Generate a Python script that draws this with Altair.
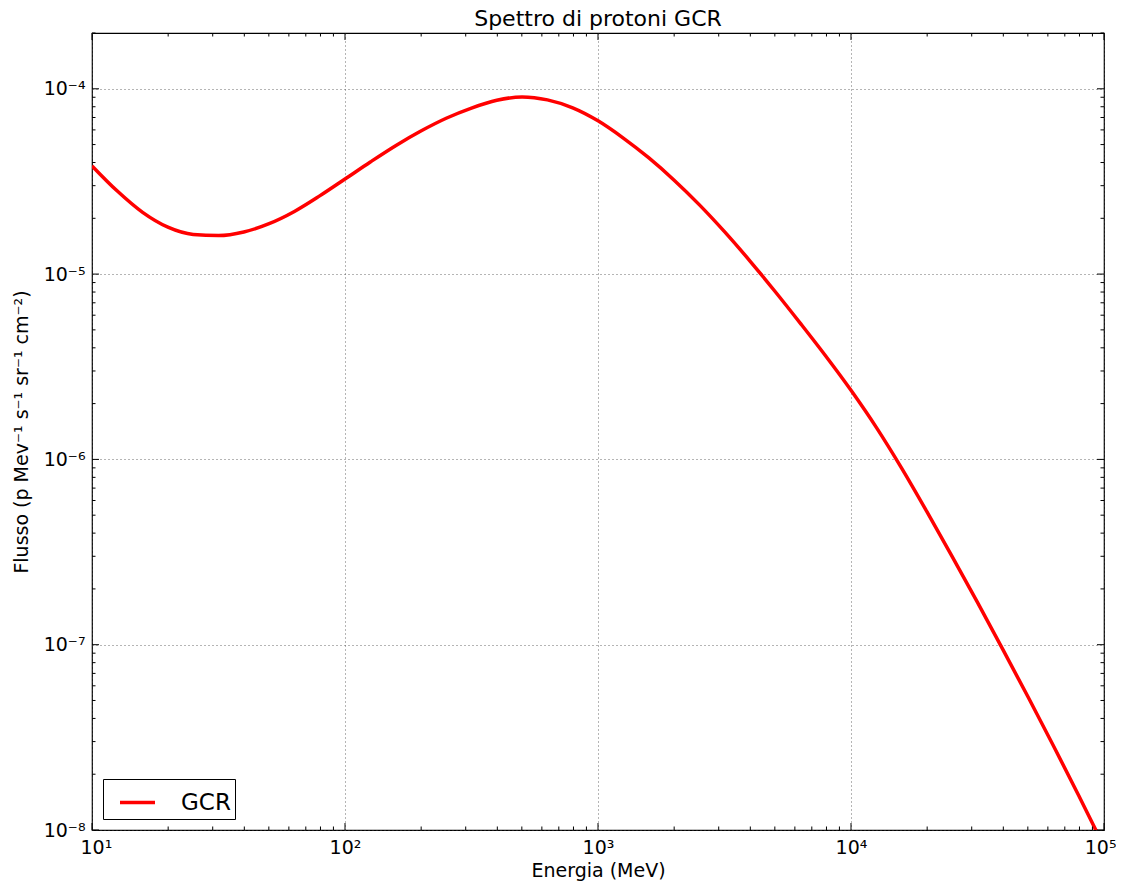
import json
import altair as alt
import pandas as pd

# ---- data ----
E_MEV = [10, 12.59, 15.85, 19.95, 25.12, 31.62, 39.81, 50.12, 63.10, 79.43,
         100, 125.9, 158.5, 199.5, 251.2, 316.2, 398.1, 501.2, 631.0, 794.3,
         1000, 1259, 1585, 1995, 2512, 3162, 3981, 5012, 6310, 7943,
         10000, 12590, 15850, 19950, 25120, 31620, 39810, 50120, 63100, 79430,
         100000]
FLUX = [3.837e-5, 2.805e-5, 2.153e-5, 1.791e-5, 1.637e-5, 1.614e-5, 1.687e-5,
        1.871e-5, 2.178e-5, 2.642e-5, 3.258e-5, 4.027e-5, 4.932e-5, 5.916e-5,
        6.934e-5, 7.870e-5, 8.670e-5, 9.036e-5, 8.710e-5, 7.889e-5, 6.714e-5,
        5.420e-5, 4.246e-5, 3.221e-5, 2.371e-5, 1.694e-5, 1.180e-5, 8.054e-6,
        5.420e-6, 3.614e-6, 2.360e-6, 1.489e-6, 8.974e-7, 5.224e-7, 2.985e-7,
        1.690e-7, 9.441e-8, 5.224e-8, 2.851e-8, 1.535e-8, 8.147e-9]
SERIES = "GCR"

X_TICKS = [10, 100, 1000, 10000, 100000]
X_TICK_LABELS = ["10¹", "10²", "10³", "10⁴", "10⁵"]
Y_TICKS = [1e-8, 1e-7, 1e-6, 1e-5, 1e-4]
Y_TICK_LABELS = ["10⁻⁸", "10⁻⁷", "10⁻⁶", "10⁻⁵", "10⁻⁴"]
X_MINOR = [m * 10 ** k for k in range(1, 5) for m in range(2, 10)]
Y_MINOR = [m * 10.0 ** k for k in range(-8, -3) for m in range(2, 10) if m * 10.0 ** k <= 2e-4]

TITLE = "Spettro di protoni GCR"
X_TITLE = "Energia (MeV)"
Y_TITLE = "Flusso (p Mev⁻¹ s⁻¹ sr⁻¹ cm⁻²)"

W, H = 1012, 797
FONT = "DejaVu Sans"

df = pd.DataFrame({"E": E_MEV, "F": FLUX, "serie": SERIES})

x_scale = alt.Scale(type="log", domain=[10, 1e5], nice=False)
y_scale = alt.Scale(type="log", domain=[1e-8, 2e-4], nice=False)

x_expr = f"{json.dumps(X_TICK_LABELS, ensure_ascii=False)}[round(log(datum.value)/LN10) - 1]"
y_expr = f"{json.dumps(Y_TICK_LABELS, ensure_ascii=False)}[round(log(datum.value)/LN10) + 8]"

x_axis = alt.Axis(values=X_TICKS, labelExpr=x_expr, title=X_TITLE,
                  grid=True, ticks=False, domain=False,
                  labelFlush=True, labelFlushOffset=12,
                  labelPadding=8, titlePadding=4)
y_axis = alt.Axis(values=Y_TICKS, labelExpr=y_expr, title=Y_TITLE,
                  grid=True, ticks=False, domain=False, labelFlush=False,
                  labelPadding=7, titlePadding=12)

line = alt.Chart(df).mark_line(strokeWidth=3.5, interpolate="monotone", clip=True).encode(
    x=alt.X("E:Q", scale=x_scale, axis=x_axis),
    y=alt.Y("F:Q", scale=y_scale, axis=y_axis),
    color=alt.Color("serie:N", scale=alt.Scale(domain=[SERIES], range=["#ff0000"]),
                    legend=alt.Legend(title=None, orient="bottom-left", offset=11,
                                      strokeColor="black", fillColor="white",
                                      padding=4, cornerRadius=0,
                                      symbolType="stroke", symbolSize=1225,
                                      symbolStrokeWidth=3.5, symbolOffset=11,
                                      labelFontSize=23, labelFont=FONT,
                                      labelColor="black", labelOffset=24)),
)


def xticks(vals, length, top):
    d = pd.DataFrame({"v": vals})
    y = alt.value(0) if top else alt.value(H)
    y2 = alt.value(length) if top else alt.value(H - length)
    return alt.Chart(d).mark_rule(color="black", strokeWidth=1).encode(
        x=alt.X("v:Q", scale=x_scale, axis=x_axis), y=y, y2=y2)


def yticks(vals, length, right):
    d = pd.DataFrame({"v": vals})
    x = alt.value(W) if right else alt.value(0)
    x2 = alt.value(W - length) if right else alt.value(length)
    return alt.Chart(d).mark_rule(color="black", strokeWidth=1).encode(
        y=alt.Y("v:Q", scale=y_scale, axis=y_axis), x=x, x2=x2)


layers = [line,
          xticks(X_TICKS, 7, False), xticks(X_TICKS, 7, True),
          xticks(X_MINOR, 3.5, False), xticks(X_MINOR, 3.5, True),
          yticks(Y_TICKS, 7, False), yticks(Y_TICKS, 7, True),
          yticks(Y_MINOR, 3.5, False), yticks(Y_MINOR, 3.5, True)]

chart = alt.layer(*layers).properties(
    width=W, height=H,
    title=alt.TitleParams(TITLE, fontSize=22, font=FONT, fontWeight="normal",
                          color="black", offset=2, anchor="middle"),
    autosize=alt.AutoSizeParams(type="none"),
    padding={"left": 84, "top": 25, "right": 12, "bottom": 53},
).configure_view(
    stroke="black", strokeWidth=1.2
).configure_axis(
    gridColor="#444", gridDash=[1, 3], gridWidth=0.8,
    labelFont=FONT, labelFontSize=19, labelColor="black",
    titleFont=FONT, titleFontSize=19, titleFontWeight="normal", titleColor="black",
)

chart.save("out.html", embed_options={"renderer": "svg", "actions": False})
